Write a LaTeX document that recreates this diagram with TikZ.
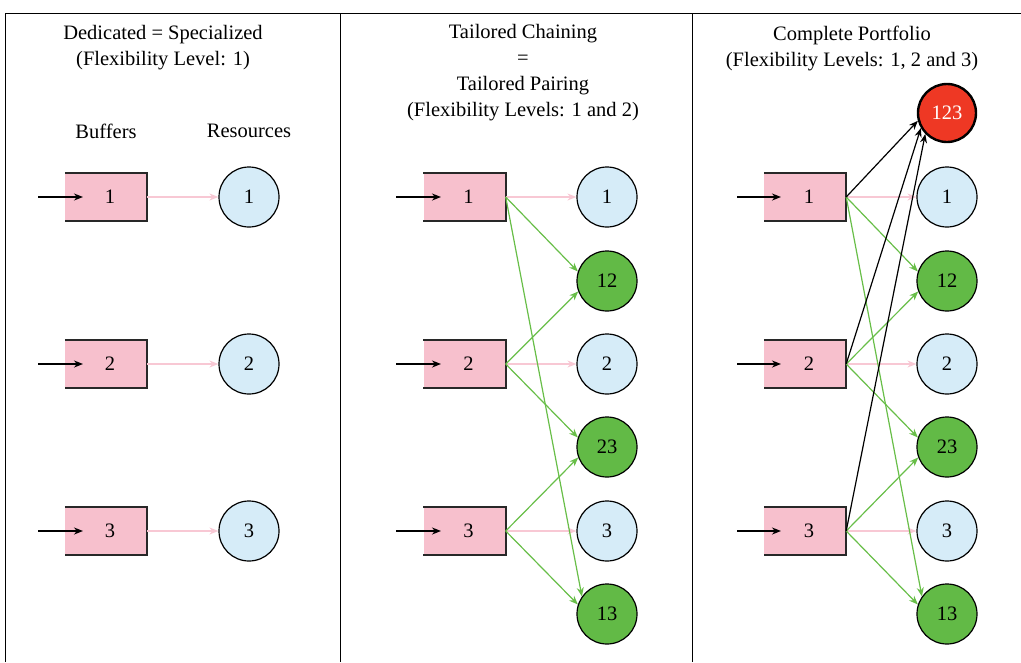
\documentclass[tikz,border=0pt]{standalone}
\usepackage{fontspec}
\setmainfont{Liberation Serif}
\usetikzlibrary{arrows.meta}
\definecolor{bufpink}{RGB}{247,192,205}
\definecolor{respblue}{RGB}{214,236,248}
\definecolor{flexgreen}{RGB}{98,186,70}
\definecolor{arrgreen}{RGB}{104,190,72}
\definecolor{arrpink}{RGB}{248,200,212}
\definecolor{fullred}{RGB}{238,56,36}
\definecolor{edgegrey}{RGB}{40,40,40}
\tikzset{
  every node/.style={font=\fontsize{20.5}{26}\selectfont},
  buf/.style={fill=bufpink,minimum width=82pt,minimum height=48pt,inner sep=0pt},
  bufedge/.style={draw=edgegrey,line width=1.6pt},
  res/.style={circle,draw=black,line width=1.2pt,fill=respblue,minimum size=60pt,inner sep=0pt},
  flex/.style={circle,draw=black,line width=1.2pt,fill=flexgreen,minimum size=60pt,inner sep=0pt},
  full/.style={circle,draw=black,line width=2.4pt,fill=fullred,text=white,minimum size=58pt,inner sep=0pt},
  tip/.style={-{Stealth[length=9pt,width=7pt]}},
  inarr/.style={tip,line width=1.6pt,black},
  ded/.style={tip,line width=1.2pt,arrpink},
  grn/.style={tip,line width=1.2pt,arrgreen},
  blk/.style={tip,line width=1.2pt,black},
  frame/.style={line width=1pt,black}
}
\newcommand{\bnum}[1]{\hspace*{8pt}#1}
\begin{document}
\begin{tikzpicture}[x=1pt,y=-1pt]
\useasboundingbox (0,0) rectangle (1021,662);
% frame
\coordinate (ftl) at (5,13);
\coordinate (ftr) at (1021,13);
\coordinate (fbl) at (5,662);
\coordinate (d1t) at (340,13);
\coordinate (d1b) at (340,662);
\coordinate (d2t) at (692,13);
\coordinate (d2b) at (692,662);
\draw[frame] (fbl) -- (ftl) -- (ftr);
\draw[frame] (d1t) -- (d1b);
\draw[frame] (d2t) -- (d2b);
% titles
\node[align=center] (t1) at (163,48) {Dedicated = Specialized\\(Flexibility Level: 1)};
\node[align=center] (t2) at (523,73) {Tailored Chaining\\=\\Tailored Pairing\\(Flexibility Levels: 1 and 2)};
\node[align=center] (t3) at (852,48) {Complete Portfolio\\(Flexibility Levels: 1, 2 and 3)};
\node (lb) at (106,131) {Buffers};
\node (lr) at (249,131) {Resources};
% ---------- panel 1
\foreach \i/\y in {1/197,2/364,3/531}{
  \node[buf] (a\i) at (106,\y) {\bnum{\i}};
  \draw[bufedge] (a\i.north west) -- (a\i.north east) -- (a\i.south east) -- (a\i.south west);
  \coordinate (ai\i) at (38,\y);
  \coordinate (ae\i) at (83,\y);
  \draw[inarr] (ai\i) -- (ae\i);
  \node[res] (ar\i) at (249,\y) {\i};
  \draw[ded] (a\i.east) -- (ar\i);
}
% ---------- panel 2
\foreach \i/\y in {1/197,2/364,3/531}{
  \node[buf] (b\i) at (464.5,\y) {\bnum{\i}};
  \draw[bufedge] (b\i.north west) -- (b\i.north east) -- (b\i.south east) -- (b\i.south west);
  \coordinate (bi\i) at (396,\y);
  \coordinate (be\i) at (441,\y);
  \draw[inarr] (bi\i) -- (be\i);
  \node[res] (br\i) at (607,\y) {\i};
}
\node[flex] (b12) at (607,281) {12};
\node[flex] (b23) at (607,447) {23};
\node[flex] (b13) at (607,614) {13};
\foreach \i in {1,2,3}{\draw[ded] (b\i.east) -- (br\i);}
\draw[grn] (b1.east) -- (b12.162);
\draw[grn] (b1.east) -- (b13.145);
\draw[grn] (b2.east) -- (b12.200);
\draw[grn] (b2.east) -- (b23.162);
\draw[grn] (b3.east) -- (b23.200);
\draw[grn] (b3.east) -- (b13.162);
% ---------- panel 3
\foreach \i/\y in {1/197,2/364,3/531}{
  \node[buf] (c\i) at (805,\y) {\bnum{\i}};
  \draw[bufedge] (c\i.north west) -- (c\i.north east) -- (c\i.south east) -- (c\i.south west);
  \coordinate (ci\i) at (737,\y);
  \coordinate (ce\i) at (781,\y);
  \draw[inarr] (ci\i) -- (ce\i);
  \node[res] (cr\i) at (947,\y) {\i};
}
\node[flex] (c12) at (947,281) {12};
\node[flex] (c23) at (947,447) {23};
\node[flex] (c13) at (947,614) {13};
\node[full] (c123) at (947,113) {123};
\foreach \i in {1,2,3}{\draw[ded] (c\i.east) -- (cr\i);}
\draw[grn] (c1.east) -- (c12.162);
\draw[grn] (c1.east) -- (c13.145);
\draw[grn] (c2.east) -- (c12.200);
\draw[grn] (c2.east) -- (c23.162);
\draw[grn] (c3.east) -- (c23.200);
\draw[grn] (c3.east) -- (c13.162);
\draw[blk] (c1.east) -- (c123.195);
\draw[blk] (c2.east) -- (c123.210);
\draw[blk] (c3.east) -- (c123.224);
\end{tikzpicture}
\end{document}
